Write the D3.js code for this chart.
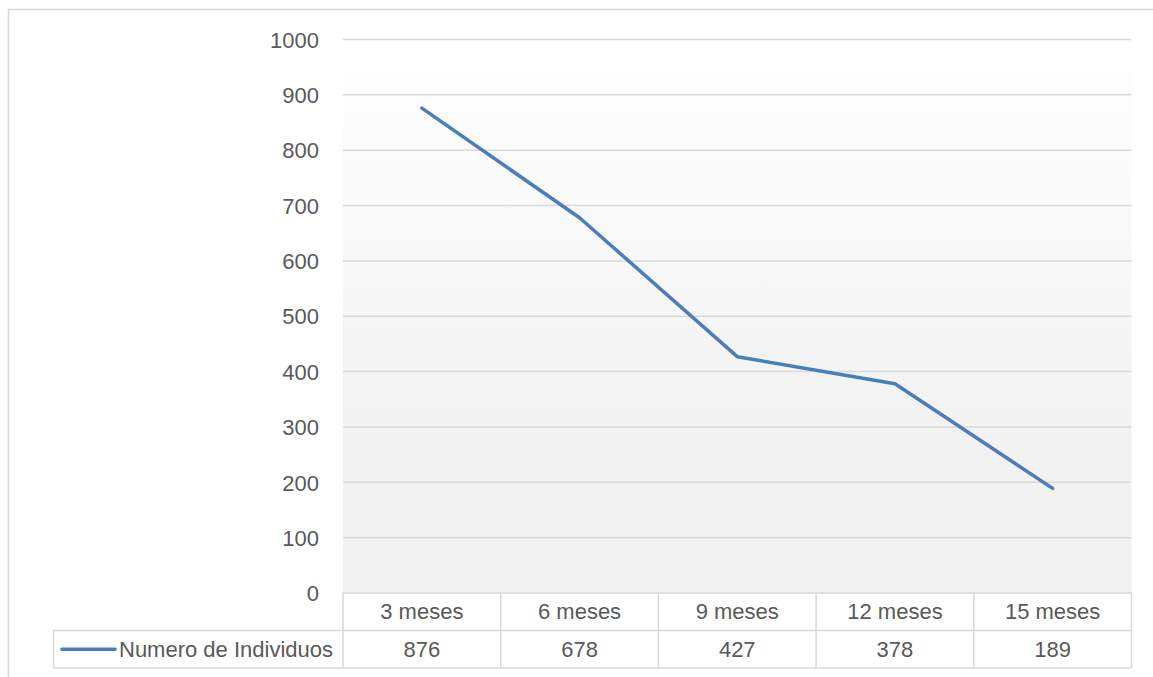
<!DOCTYPE html>
<html>
<head>
<meta charset="utf-8">
<script src="https://cdn.jsdelivr.net/npm/d3@7/dist/d3.min.js"></script>
<style>
html,body{margin:0;padding:0;background:#fff;}
svg text{font-family:"Liberation Sans",Arial,sans-serif;fill:#595959;}
</style>
</head>
<body>
<svg id="chart" width="1153" height="677"></svg>
<script>
const categories = ["3 meses","6 meses","9 meses","12 meses","15 meses"];
const seriesName = "Numero de Individuos";
const values = [876, 678, 427, 378, 189];
const yTicks = [0,100,200,300,400,500,600,700,800,900,1000];

const W = 1153, H = 677;
const plot = {left: 343, right: 1131.5, top: 39.5, bottom: 593};
const rowH = 37.5;
const legendLeft = 53.5;
const gridColor = "#d9d9d9";
const lineColor = "#4a7ebb";
const fs = 22;

const svg = d3.select("#chart");

// outer chart border
svg.append("rect").attr("x",8.5).attr("y",9.5).attr("width",1200).attr("height",800)
  .attr("fill","none").attr("stroke",gridColor).attr("stroke-width",1.5);

const defs = svg.append("defs");
const grad = defs.append("linearGradient").attr("id","bg").attr("x1",0).attr("y1",0).attr("x2",0).attr("y2",1);
grad.append("stop").attr("offset","0").attr("stop-color","#ffffff");
grad.append("stop").attr("offset","0.72").attr("stop-color","#f2f2f2");
grad.append("stop").attr("offset","1").attr("stop-color","#f2f2f2");

const x = d3.scaleBand().domain(categories).range([plot.left, plot.right]).paddingInner(0).paddingOuter(0);
const y = d3.scaleLinear().domain([0,1000]).range([plot.bottom, plot.top]);

svg.append("rect").attr("x",plot.left).attr("y",plot.top).attr("width",plot.right-plot.left)
  .attr("height",plot.bottom-plot.top).attr("fill","url(#bg)");

// gridlines
svg.append("g").selectAll("line").data(yTicks.filter(d=>d>0)).join("line")
  .attr("x1",plot.left).attr("x2",plot.right)
  .attr("y1",d=>y(d)).attr("y2",d=>y(d))
  .attr("stroke",gridColor).attr("stroke-width",1.5);

// y axis labels
const yAxis = d3.axisLeft(y).tickValues(yTicks).tickFormat(d3.format("d")).tickSize(0).tickPadding(0);
const gy = svg.append("g").attr("transform",`translate(319,0)`).call(yAxis);
gy.select(".domain").remove();
gy.selectAll("text").attr("font-size",fs).attr("fill","#595959")
  .style("font-family","'Liberation Sans',Arial,sans-serif").attr("dy","0.35em");

// data line
const line = d3.line().x((d,i)=>x(categories[i])+x.bandwidth()/2).y(d=>y(d));
svg.append("path").datum(values).attr("d",line).attr("fill","none")
  .attr("stroke",lineColor).attr("stroke-width",3.5).attr("stroke-linejoin","round").attr("stroke-linecap","round");

// data table
const tb = svg.append("g").attr("stroke",gridColor).attr("stroke-width",1.5).attr("fill","none");
const r0 = plot.bottom, r1 = plot.bottom+rowH, r2 = plot.bottom+2*rowH;
tb.append("line").attr("x1",plot.left).attr("x2",plot.right).attr("y1",r0).attr("y2",r0);
tb.append("line").attr("x1",legendLeft).attr("x2",plot.right).attr("y1",r1).attr("y2",r1);
tb.append("line").attr("x1",legendLeft).attr("x2",plot.right).attr("y1",r2).attr("y2",r2);
tb.append("line").attr("x1",legendLeft).attr("x2",legendLeft).attr("y1",r1).attr("y2",r2);
const bounds = categories.map(c=>x(c)).concat([plot.right]);
tb.selectAll("line.v").data(bounds).join("line").attr("class","v")
  .attr("x1",d=>d).attr("x2",d=>d).attr("y1",r0).attr("y2",r2);

svg.append("g").selectAll("text").data(categories).join("text")
  .attr("x",d=>x(d)+x.bandwidth()/2).attr("y",(r0+r1)/2).attr("dy","0.35em")
  .attr("text-anchor","middle").attr("font-size",fs).text(d=>d);
svg.append("g").selectAll("text").data(values).join("text")
  .attr("x",(d,i)=>x(categories[i])+x.bandwidth()/2).attr("y",(r1+r2)/2).attr("dy","0.35em")
  .attr("text-anchor","middle").attr("font-size",fs).text(d=>d);

// legend key
svg.append("line").attr("x1",62).attr("x2",115).attr("y1",(r1+r2)/2).attr("y2",(r1+r2)/2)
  .attr("stroke",lineColor).attr("stroke-width",3.5).attr("stroke-linecap","round");
svg.append("text").attr("x",119).attr("y",(r1+r2)/2).attr("dy","0.35em").attr("font-size",fs).text(seriesName);
</script>
</body>
</html>
